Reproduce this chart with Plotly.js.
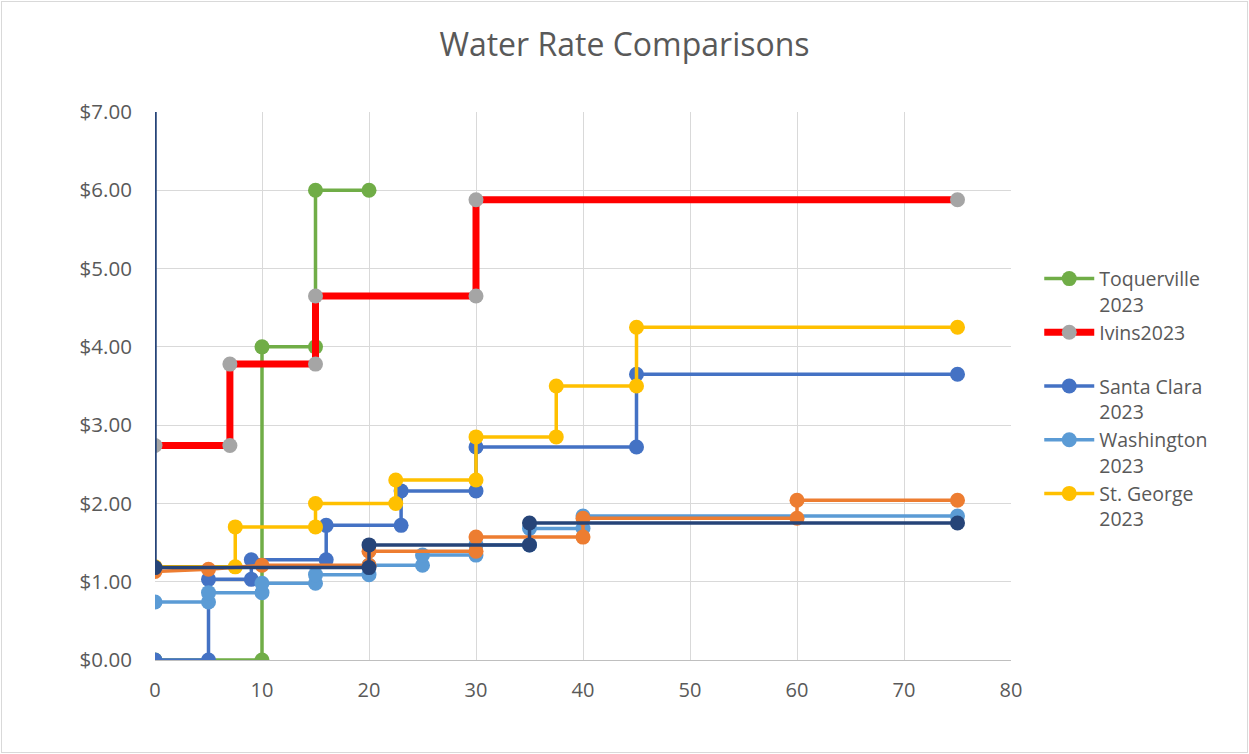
<!DOCTYPE html>
<html>
<head>
<meta charset="utf-8">
<script src="https://cdn.plot.ly/plotly-3.0.1.min.js"></script>
<style>
  html, body { margin: 0; padding: 0; background: #fff; }
  #wrap { position: relative; width: 1249px; height: 754px; }
  #chart { width: 1249px; height: 754px; }
  #frame { position: absolute; left: 1px; top: 1px; width: 1245px; height: 750px; border: 1px solid #D9D9D9; pointer-events: none; }
</style>
</head>
<body>
<div id="wrap"><div id="chart"></div><div id="frame"></div></div>
<script>
// Toquerville 2023
const toqX = [0, 10, 10, 15, 15, 20];
const toqY = [0, 0, 4.00, 4.00, 6.00, 6.00];
// Ivins 2023
const ivinsX = [0, 7, 7, 15, 15, 30, 30, 75];
const ivinsY = [2.74, 2.74, 3.78, 3.78, 4.65, 4.65, 5.88, 5.88];
// Santa Clara 2023
const scX = [0, 5, 5, 9, 9, 16, 16, 23, 23, 30, 30, 45, 45, 75];
const scY = [0, 0, 1.03, 1.03, 1.28, 1.28, 1.72, 1.72, 2.16, 2.16, 2.72, 2.72, 3.65, 3.65];
// Washington 2023
const waX = [0, 5, 5, 10, 10, 15, 15, 20, 20, 25, 25, 30, 30, 35, 35, 40, 40, 75];
const waY = [0.74, 0.74, 0.86, 0.86, 0.98, 0.98, 1.09, 1.09, 1.21, 1.21, 1.34, 1.34, 1.47, 1.47, 1.68, 1.68, 1.84, 1.84];
// St. George 2023
const sgX = [0, 7.5, 7.5, 15, 15, 22.5, 22.5, 30, 30, 37.5, 37.5, 45, 45, 75];
const sgY = [1.19, 1.19, 1.70, 1.70, 2.00, 2.00, 2.30, 2.30, 2.85, 2.85, 3.50, 3.50, 4.25, 4.25];
// Unlabelled series (orange)
const orX = [0, 5, 10, 20, 20, 30, 30, 40, 40, 60, 60, 75];
const orY = [1.13, 1.16, 1.21, 1.21, 1.39, 1.39, 1.57, 1.57, 1.81, 1.81, 2.04, 2.04];
// Unlabelled series (navy)
const nvX = [0, 0, 20, 20, 35, 35, 75];
const nvY = [8.00, 1.18, 1.18, 1.47, 1.47, 1.75, 1.75];

const names = ["Toquerville<br>2023", "Ivins2023<br> ", "Santa Clara<br>2023", "Washington<br>2023", "St. George<br>2023"];
const xTicks = [0, 10, 20, 30, 40, 50, 60, 70, 80];

function tr(x, y, name, lineColor, markerColor, width, showleg) {
  return {
    x: x, y: y, name: name, type: 'scatter', mode: 'lines+markers',
    line: {color: lineColor, width: width},
    marker: {color: markerColor, size: 15},
    showlegend: showleg
  };
}

const data = [
  tr(toqX, toqY, names[0], '#70AD47', '#70AD47', 3.5, true),
  tr(ivinsX, ivinsY, names[1], '#FF0000', '#A5A5A5', 7, true),
  tr(scX, scY, names[2], '#4472C4', '#4472C4', 3.5, true),
  tr(waX, waY, names[3], '#5B9BD5', '#5B9BD5', 3.5, true),
  tr(sgX, sgY, names[4], '#FFC000', '#FFC000', 3.5, true),
  tr(orX, orY, 'Series 6', '#ED7D31', '#ED7D31', 3.5, false),
  tr(nvX, nvY, 'Series 7', '#264478', '#264478', 3.5, false)
];

const layout = {
  width: 1249, height: 754,
  margin: {l: 155, r: 238, t: 112, b: 94},
  paper_bgcolor: '#fff', plot_bgcolor: '#fff',
  font: {family: 'Open Sans, sans-serif', color: '#595959', size: 20},
  title: {text: 'Water Rate Comparisons', font: {size: 32, color: '#595959'}, x: 0.5, xanchor: 'center', y: 0.94, yanchor: 'middle'},
  xaxis: {
    range: [0, 80], tickvals: xTicks, showgrid: true, gridcolor: '#D9D9D9', gridwidth: 1,
    zeroline: false, showline: true, linecolor: '#BFBFBF', linewidth: 1,
    ticks: 'outside', ticklen: 12, tickcolor: 'rgba(0,0,0,0)',
    tickfont: {size: 20, color: '#595959'}, fixedrange: true
  },
  yaxis: {
    range: [0, 7], dtick: 1, tick0: 0, tickformat: '$.2f', showgrid: true, gridcolor: '#D9D9D9', gridwidth: 1,
    zeroline: false, showline: false,
    ticks: 'outside', ticklen: 18, tickcolor: 'rgba(0,0,0,0)',
    tickfont: {size: 20.5, color: '#595959'}, fixedrange: true
  },
  legend: {
    x: 1.033, xanchor: 'left', y: 0.731, yanchor: 'top',
    font: {size: 19.5, color: '#595959'}, valign: 'top',
    bgcolor: 'rgba(0,0,0,0)', itemwidth: 50, tracegroupgap: 0
  },
  showlegend: true
};

Plotly.newPlot('chart', data, layout, {displayModeBar: false, staticPlot: true});
</script>
</body>
</html>
